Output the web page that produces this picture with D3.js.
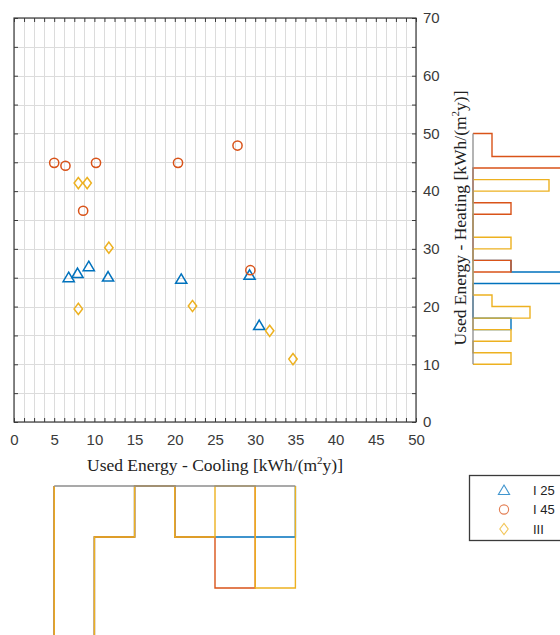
<!DOCTYPE html>
<html>
<head>
<meta charset="utf-8">
<script src="https://cdn.jsdelivr.net/npm/d3@7"></script>
<style>
  html, body { margin: 0; padding: 0; background: #fff; }
  svg { display: block; }
</style>
</head>
<body>
<svg id="chart" width="560" height="635"></svg>
<script>
// Used energy per case: cooling (x) vs heating (y), kWh/(m²y)
const groups = ["I 25", "I 45", "III"];
const colors = ["#0072BD", "#D95319", "#EDB120"];

const coolingI25 = [6.8, 7.9, 9.3, 11.7, 20.8, 29.3, 30.5];
const heatingI25 = [25.1, 25.8, 27.0, 25.2, 24.8, 25.5, 16.8];
const coolingI45 = [5.0, 6.4, 10.2, 20.4, 27.8, 8.6, 29.4];
const heatingI45 = [44.9, 44.4, 44.9, 44.9, 47.9, 36.6, 26.3];
const coolingIII = [8.0, 9.1, 11.8, 8.0, 22.2, 31.8, 34.7];
const heatingIII = [41.4, 41.4, 30.2, 19.6, 20.1, 15.8, 10.9];

// Marginal histograms: [binStart, binEnd, value]
const coolBinsI25 = [[5, 10, 3], [10, 15, 1], [20, 25, 1], [25, 30, 1], [30, 35, 1]];
const coolBinsI45 = [[5, 10, 3], [10, 15, 1], [20, 25, 1], [25, 30, 2]];
const coolBinsIII = [[5, 10, 3], [10, 15, 1], [20, 25, 1], [30, 35, 2]];
const heatBinsI25 = [[16, 18, 1], [24, 26, 5], [26, 28, 1]];
const heatBinsI45 = [[26, 28, 1], [36, 38, 1], [44, 46, 4], [46, 50, 0.5]];
const heatBinsIII = [[10, 12, 1], [14, 16, 1], [18, 20, 1.5], [20, 22, 0.5], [30, 32, 1], [40, 42, 2]];

const xTickLabels = [0, 5, 10, 15, 20, 25, 30, 35, 40, 45, 50];
const yTickLabels = [0, 10, 20, 30, 40, 50, 60, 70];

const series = [
  { name: groups[0], color: colors[0], shape: "triangle", xs: coolingI25, ys: heatingI25, cool: coolBinsI25, heat: heatBinsI25 },
  { name: groups[1], color: colors[1], shape: "circle",   xs: coolingI45, ys: heatingI45, cool: coolBinsI45, heat: heatBinsI45 },
  { name: groups[2], color: colors[2], shape: "diamond",  xs: coolingIII, ys: heatingIII, cool: coolBinsIII, heat: heatBinsIII }
];

const svg = d3.select("#chart");
const sans = "'Liberation Sans', Arial, sans-serif";
const serif = "'Liberation Serif', 'Times New Roman', serif";
const axisColor = "#3a3a3a";

const x = d3.scaleLinear().domain([0, 50]).range([14, 416]);
const y = d3.scaleLinear().domain([0, 70]).range([422, 18]);

// grid
const xGrid = d3.range(0, 50.001, 1.25);
const yGrid = d3.range(0, 70.001, 5);
const grid = svg.append("g").attr("stroke", "#dcdcdc").attr("stroke-width", 1);
grid.selectAll("line.v").data(xGrid).join("line").attr("class", "v")
  .attr("x1", d => Math.round(x(d)) + 0.5).attr("x2", d => Math.round(x(d)) + 0.5)
  .attr("y1", y(70)).attr("y2", y(0));
grid.selectAll("line.h").data(yGrid).join("line").attr("class", "h")
  .attr("y1", d => Math.round(y(d)) + 0.5).attr("y2", d => Math.round(y(d)) + 0.5)
  .attr("x1", x(0)).attr("x2", x(50));

// axes (ticks point inward)
function styleAxis(g) {
  g.select(".domain").remove();
  g.selectAll(".tick line").attr("stroke", axisColor);
  g.selectAll(".tick text").attr("fill", axisColor).attr("font-family", sans).attr("font-size", 15);
}
const isMult = (v, m) => Math.abs(v / m - Math.round(v / m)) < 1e-6;

svg.append("g").attr("transform", `translate(0,${y(0)})`)
  .call(d3.axisBottom(x).tickValues(xGrid).tickSizeInner(-4).tickSizeOuter(0).tickPadding(12)
    .tickFormat(d => xTickLabels.includes(d) ? d : ""))
  .call(styleAxis);
svg.append("g").attr("transform", `translate(0,${y(70)})`)
  .call(d3.axisTop(x).tickValues(xGrid).tickSizeInner(-4).tickSizeOuter(0).tickFormat(""))
  .call(styleAxis);
svg.append("g").attr("transform", `translate(${x(50)},0)`)
  .call(d3.axisRight(y).tickValues(yGrid).tickSizeInner(-4).tickSizeOuter(0).tickPadding(7)
    .tickFormat(d => yTickLabels.includes(d) ? d : ""))
  .call(styleAxis);
svg.append("g").attr("transform", `translate(${x(0)},0)`)
  .call(d3.axisLeft(y).tickValues(yGrid).tickSizeInner(-4).tickSizeOuter(0).tickFormat(""))
  .call(styleAxis);

svg.append("rect")
  .attr("x", x(0)).attr("y", y(70)).attr("width", x(50) - x(0)).attr("height", y(0) - y(70))
  .attr("fill", "none").attr("stroke", axisColor).attr("stroke-width", 1.2);

// markers
function markerPath(shape) {
  if (shape === "triangle") return "M0,-5 L5.6,4.5 L-5.6,4.5 Z";
  if (shape === "diamond") return "M0,-5.6 L4.2,0 L0,5.6 L-4.2,0 Z";
  return d3.arc()({ innerRadius: 0, outerRadius: 4.6, startAngle: 0, endAngle: 2 * Math.PI });
}
const pts = svg.append("g");
series.forEach(s => {
  pts.append("g").selectAll("path").data(s.xs.map((v, i) => [v, s.ys[i]])).join("path")
    .attr("d", markerPath(s.shape))
    .attr("transform", d => `translate(${x(d[0])},${y(d[1])})`)
    .attr("fill", "none").attr("stroke", s.color).attr("stroke-width", 1.5);
});

// axis titles
const xt = svg.append("text").attr("x", x(25)).attr("y", 471).attr("text-anchor", "middle")
  .attr("font-family", serif).attr("font-size", 17.5).attr("fill", "#222");
xt.append("tspan").text("Used Energy - Cooling [kWh/(m");
xt.append("tspan").attr("dy", -7).attr("font-size", 11).text("2");
xt.append("tspan").attr("dy", 7).text("y)]");

const yt = svg.append("text").attr("transform", "translate(466,218) rotate(-90)").attr("text-anchor", "middle")
  .attr("font-family", serif).attr("font-size", 17.5).attr("fill", "#222");
yt.append("tspan").text("Used Energy - Heating [kWh/(m");
yt.append("tspan").attr("dy", -7).attr("font-size", 11).text("2");
yt.append("tspan").attr("dy", 7).text("y)]");

// stairs outline of a histogram, gaps drawn along the baseline
function stairs(bins) {
  const out = [[bins[0][0], 0]];
  let prev = null;
  bins.forEach(b => {
    if (prev !== null && b[0] > prev) { out.push([prev, 0], [b[0], 0]); }
    out.push([b[0], b[2]], [b[1], b[2]]);
    prev = b[1];
  });
  out.push([prev, 0]);
  return out;
}

// bottom histogram: cooling
const cBase = d3.scaleLinear().domain([0, 1]).range([486, 537]);
const coolLine = d3.line().x(d => x(d[0])).y(d => cBase(d[1]));
const hb = svg.append("g");
series.forEach(s => {
  hb.append("path").attr("d", coolLine(stairs(s.cool)))
    .attr("fill", "none").attr("stroke", s.color).attr("stroke-width", 1.4);
});
hb.append("line").attr("x1", x(5)).attr("x2", x(35)).attr("y1", cBase(0)).attr("y2", cBase(0))
  .attr("stroke", "#8c8c8c").attr("stroke-width", 1.3);

// right histogram: heating
const hBase = d3.scaleLinear().domain([0, 1]).range([473, 511]);
const heatLine = d3.line().x(d => hBase(d[1])).y(d => y(d[0]));
const hr = svg.append("g");
series.forEach(s => {
  hr.append("path").attr("d", heatLine(stairs(s.heat)))
    .attr("fill", "none").attr("stroke", s.color).attr("stroke-width", 1.4);
});
hr.append("line").attr("x1", hBase(0)).attr("x2", hBase(0)).attr("y1", y(50)).attr("y2", y(10))
  .attr("stroke", "#8c8c8c").attr("stroke-width", 1.3);

// legend
const lg = svg.append("g");
lg.append("rect").attr("x", 469.5).attr("y", 475.5).attr("width", 120).attr("height", 65)
  .attr("fill", "#fff").attr("stroke", axisColor).attr("stroke-width", 1.3);
series.forEach((s, i) => {
  const cy = 490 + i * 19.5;
  lg.append("path").attr("d", markerPath(s.shape)).attr("transform", `translate(504,${cy})`)
    .attr("fill", "none").attr("stroke", s.color).attr("stroke-width", 1.1).attr("opacity", 0.75);
  lg.append("text").attr("x", 533).attr("y", cy).attr("dy", "0.35em")
    .attr("font-family", sans).attr("font-size", 13).attr("fill", "#222").text(s.name);
});
</script>
</body>
</html>
